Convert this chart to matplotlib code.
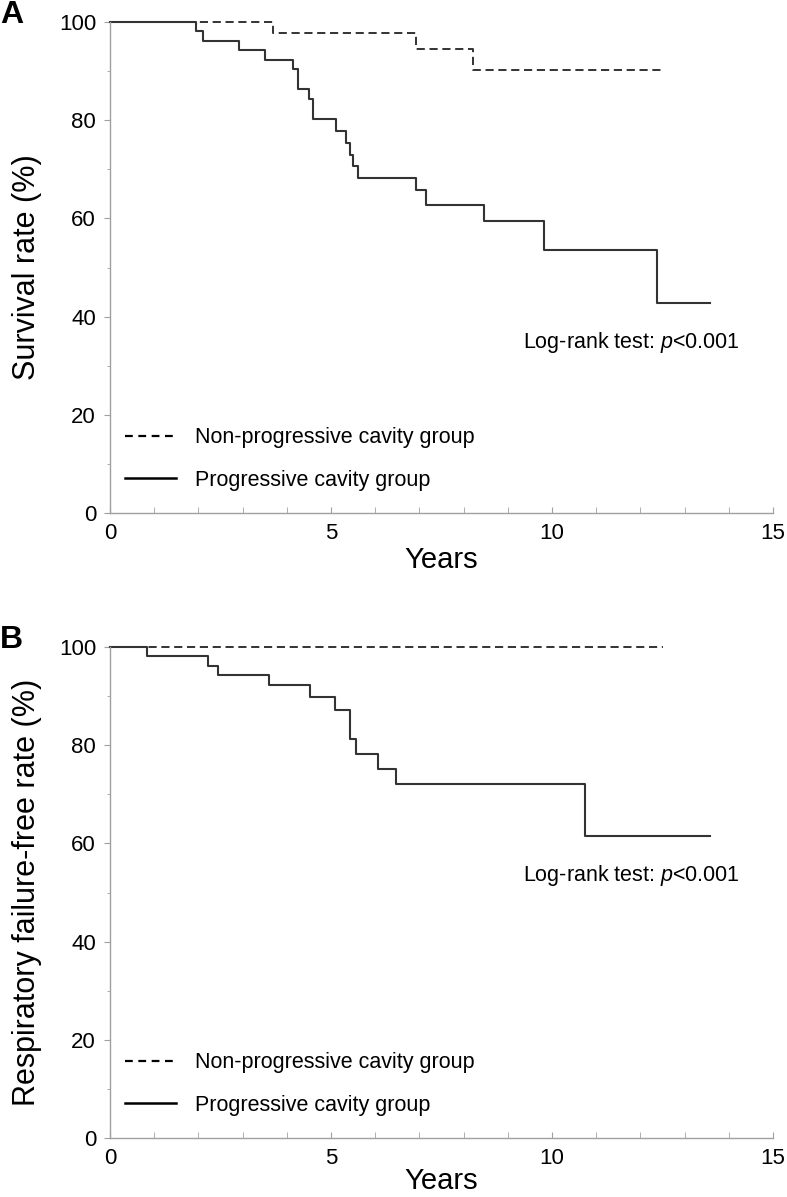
import matplotlib
matplotlib.use("Agg")
import matplotlib.pyplot as plt
from matplotlib.lines import Line2D
from matplotlib.ticker import MultipleLocator

# ---------------- data ----------------
# Panel A: survival
a_prog_t = [0, 1.95, 2.10, 2.92, 3.50, 4.13, 4.25, 4.50, 4.59, 5.11, 5.33, 5.43, 5.49, 5.60,
            6.92, 7.15, 8.47, 9.83, 12.38, 13.57]
a_prog_s = [100, 98.2, 96.2, 94.2, 92.3, 90.4, 86.4, 84.3, 80.2, 77.7, 75.3, 72.9, 70.7, 68.3,
            65.8, 62.8, 59.4, 53.5, 42.8, 42.8]
a_non_t = [0, 3.69, 6.92, 8.21, 12.53]
a_non_s = [100, 97.8, 94.6, 90.2, 90.2]

# Panel B: respiratory failure-free
b_prog_t = [0, 0.83, 2.21, 2.45, 3.59, 4.52, 5.09, 5.42, 5.57, 6.06, 6.48, 10.75, 13.57]
b_prog_s = [100, 98.1, 96.1, 94.2, 92.2, 89.8, 87.1, 81.3, 78.2, 75.1, 72.1, 61.5, 61.5]
b_non_t = [0, 12.52]
b_non_s = [100, 100]

group_labels = ["Non-progressive cavity group", "Progressive cavity group"]
x_ticks = [0, 5, 10, 15]
y_ticks = [0, 20, 40, 60, 80, 100]
ylabels = ["Survival rate (%)", "Respiratory failure-free rate (%)"]
panel_letters = ["A", "B"]
pval_text = "Log-rank test: $p$<0.001"

# ---------------- style ----------------
FAM = ["Liberation Sans", "DejaVu Sans"]
plt.rcParams["font.family"] = FAM
plt.rcParams["mathtext.fontset"] = "custom"
plt.rcParams["mathtext.it"] = "Liberation Sans:italic"
plt.rcParams["mathtext.rm"] = "Liberation Sans"

W, H = 787, 1197
fig = plt.figure(figsize=(W / 100, H / 100), dpi=100)

x0, x1 = 110, 773
axes_px = [(22, 513), (647, 1138)]
line_col = "#333333"
spine_col = "#a0a0a0"

panels = [
    (a_prog_t, a_prog_s, a_non_t, a_non_s, 34.8, 2),
    (b_prog_t, b_prog_s, b_non_t, b_non_s, 53.5, -1),
]

for i, ((ytop, ybot), (pt, ps, nt, ns, py, lp)) in enumerate(zip(axes_px, panels)):
    ax = fig.add_axes([x0 / W, 1 - ybot / H, (x1 - x0) / W, (ybot - ytop) / H])
    ax.step(nt, ns, where="post", color=line_col, lw=1.4, ls=(0, (4.2, 2.4)), clip_on=False)
    ax.step(pt, ps, where="post", color=line_col, lw=1.5, clip_on=False)
    ax.set_xlim(0, 15)
    ax.set_ylim(0, 100)
    for s in ["top", "right"]:
        ax.spines[s].set_visible(False)
    for s in ["left", "bottom"]:
        ax.spines[s].set_color(spine_col)
        ax.spines[s].set_linewidth(1.0)
    ax.set_xticks(x_ticks)
    ax.xaxis.set_minor_locator(MultipleLocator(1))
    ax.set_yticks(y_ticks)
    ax.yaxis.set_minor_locator(MultipleLocator(10))
    ax.tick_params(axis="x", which="both", direction="in", length=4, color=spine_col,
                   labelsize=16, pad=7)
    ax.tick_params(axis="y", which="major", direction="out", length=4, color=spine_col,
                   labelsize=16, pad=6)
    ax.tick_params(axis="y", which="minor", direction="out", length=2, color=spine_col)
    ax.set_xlabel("Years", fontsize=21, labelpad=lp)
    ax.set_ylabel(ylabels[i], fontsize=22, labelpad=12)
    ax.text(9.34, py, pval_text, fontsize=15.5, va="center", ha="left")
    handles = [Line2D([], [], color="black", lw=1.6, ls=(0, (3.5, 2.5))),
               Line2D([], [], color="black", lw=1.8)]
    ax.legend(handles, group_labels, loc="center left", bbox_to_anchor=(0.022, 0.11),
              frameon=False, fontsize=15.5, handlelength=2.4, handletextpad=0.85,
              labelspacing=1.0, borderpad=0, borderaxespad=0)
    ax.text(-110 / (x1 - x0), 1 + 22 / (ybot - ytop), panel_letters[i],
            transform=ax.transAxes, fontsize=23, fontweight="bold",
            ha="left", va="top")

fig.savefig("out.png", dpi=100)
